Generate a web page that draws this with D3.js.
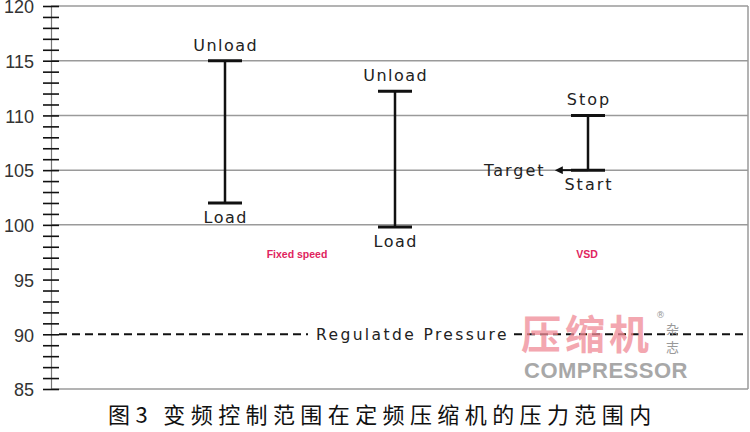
<!DOCTYPE html>
<html>
<head>
<meta charset="utf-8">
<script src="https://cdn.jsdelivr.net/npm/d3@7"></script>
<style>
  body { margin: 0; background: #fff; }
  text { font-family: "DejaVu Sans", sans-serif; }
</style>
</head>
<body>
<div id="chart-Div"></div>
<script>

// data
let barNames = ['fixedA', 'fixedB', 'vsd'];
let highs = [115, 112.2, 110];
let lows = [102, 99.8, 105];
let topLabels = ['Unload', 'Unload', 'Stop'];
let bottomLabels = ['Load', 'Load', 'Start'];
let groupNames = ['Fixed speed', 'VSD'];
let yTicks = [85, 90, 95, 100, 105, 110, 115, 120];
let gridValues = [85, 100, 105, 110, 115, 120];
let targetValue = 105;
let regulatedPressure = 90;

let width = 750, height = 432;
let svg = d3.select('#chart-Div')
    .append('svg')
    .attr('width', width)
    .attr('height', height);

let axisX = 51, rightX = 748;

let yScale = d3.scaleLinear()
    .domain([85, 120])
    .range([389, 6]);

let xScale = d3.scaleOrdinal()
    .domain(barNames)
    .range([225, 395, 588]);

let groupScale = d3.scaleOrdinal()
    .domain(groupNames)
    .range([297, 587]);

// grid lines
svg.selectAll('.grid')
    .data(gridValues)
    .join('line')
    .attr('x1', axisX)
    .attr('x2', rightX)
    .attr('y1', d => yScale(d))
    .attr('y2', d => yScale(d))
    .attr('stroke', '#9a9a9a')
    .attr('stroke-width', 1.5);

// right frame
svg.append('line')
    .attr('x1', rightX).attr('x2', rightX)
    .attr('y1', yScale(120)).attr('y2', yScale(85))
    .attr('stroke', '#9a9a9a')
    .attr('stroke-width', 1.5);

// y axis with every unit tick
let yAxis = d3.axisLeft(yScale)
    .tickValues(d3.range(85, 121, 1))
    .tickSize(0)
    .tickFormat('');
let axisG = svg.append('g')
    .attr('transform', `translate(${axisX},0)`)
    .call(yAxis);
axisG.select('.domain').attr('stroke', '#777').attr('stroke-width', 1.2);
axisG.selectAll('.tick line')
    .attr('x1', -8).attr('x2', 8)
    .attr('stroke', '#111')
    .attr('stroke-width', 1.6);

svg.selectAll('.ylabel')
    .data(yTicks)
    .join('text')
    .attr('x', 34)
    .attr('y', d => yScale(d) + 1)
    .attr('dy', '0.35em')
    .attr('text-anchor', 'end')
    .attr('font-size', 18)
    .attr('fill', '#333')
    .style('font-family', 'Liberation Sans, Arial, sans-serif')
    .text(d => d);

// regulated pressure dashed line
svg.append('line')
    .attr('x1', axisX + 8)
    .attr('x2', rightX)
    .attr('y1', yScale(regulatedPressure))
    .attr('y2', yScale(regulatedPressure))
    .attr('stroke', '#111')
    .attr('stroke-width', 2)
    .attr('stroke-dasharray', '8,5');

svg.append('rect')
    .attr('x', 308).attr('y', yScale(regulatedPressure) - 10)
    .attr('width', 206).attr('height', 20)
    .attr('fill', '#fff');

svg.append('text')
    .attr('x', 316)
    .attr('y', yScale(regulatedPressure))
    .attr('dy', '0.35em')
    .attr('font-size', 15.5)
    .attr('letter-spacing', 2.4)
    .attr('fill', '#222')
    .text('Regulatde Pressure');

// watermark
svg.append('text')
    .attr('x', 521).attr('y', 349)
    .attr('font-size', 40)
    .attr('letter-spacing', 4)
    .attr('font-weight', 'bold')
    .attr('fill', '#f08a96')
    .attr('opacity', 0.75)
    .style('font-family', 'Noto Sans CJK SC')
    .text('压缩机');
svg.append('text')
    .attr('x', 666).attr('y', 334)
    .attr('font-size', 13)
    .attr('fill', '#999')
    .style('font-family', 'Noto Sans CJK SC')
    .text('杂');
svg.append('text')
    .attr('x', 666).attr('y', 352)
    .attr('font-size', 13)
    .attr('fill', '#999')
    .style('font-family', 'Noto Sans CJK SC')
    .text('志');
svg.append('text')
    .attr('x', 656).attr('y', 318)
    .attr('font-size', 9)
    .attr('fill', '#999')
    .text('®');
svg.append('text')
    .attr('x', 606).attr('y', 378)
    .attr('text-anchor', 'middle')
    .attr('font-size', 22)
    .attr('font-weight', 'bold')
    .attr('letter-spacing', 0.5)
    .attr('fill', '#a8a8a8')
    .style('font-family', 'Liberation Sans, Arial, sans-serif')
    .text('COMPRESSOR');

// range bars
let bars = barNames.map((n, i) => ({name: n, hi: highs[i], lo: lows[i], top: topLabels[i], bot: bottomLabels[i]}));
let capHalf = 17;

let barG = svg.selectAll('.bar')
    .data(bars)
    .join('g');

barG.append('line')
    .attr('x1', d => xScale(d.name)).attr('x2', d => xScale(d.name))
    .attr('y1', d => yScale(d.hi)).attr('y2', d => yScale(d.lo))
    .attr('stroke', '#111').attr('stroke-width', 2.5);
barG.append('line')
    .attr('x1', d => xScale(d.name) - capHalf).attr('x2', d => xScale(d.name) + capHalf)
    .attr('y1', d => yScale(d.hi)).attr('y2', d => yScale(d.hi))
    .attr('stroke', '#111').attr('stroke-width', 3);
barG.append('line')
    .attr('x1', d => xScale(d.name) - capHalf).attr('x2', d => xScale(d.name) + capHalf)
    .attr('y1', d => yScale(d.lo)).attr('y2', d => yScale(d.lo))
    .attr('stroke', '#111').attr('stroke-width', 3);

let spacing = d => d.name === 'vsd' ? 2 : 1.5;

barG.append('text')
    .attr('x', d => xScale(d.name) + spacing(d) / 2)
    .attr('y', d => yScale(d.hi) - 10)
    .attr('text-anchor', 'middle')
    .attr('font-size', 16)
    .attr('letter-spacing', spacing)
    .attr('fill', '#222')
    .text(d => d.top);
barG.append('text')
    .attr('x', d => xScale(d.name) + spacing(d) / 2)
    .attr('y', d => yScale(d.lo) + 20)
    .attr('text-anchor', 'middle')
    .attr('font-size', 16)
    .attr('letter-spacing', spacing)
    .attr('fill', '#222')
    .text(d => d.bot);

// target arrow
svg.append('defs').append('marker')
    .attr('id', 'arrow')
    .attr('viewBox', '0 0 10 10')
    .attr('refX', 1).attr('refY', 5)
    .attr('markerWidth', 10).attr('markerHeight', 8)
    .attr('markerUnits', 'userSpaceOnUse')
    .attr('orient', 'auto-start-reverse')
    .append('path')
    .attr('d', 'M0,0 L10,5 L0,10 Z')
    .attr('fill', '#111');

svg.append('line')
    .attr('x1', xScale('vsd'))
    .attr('x2', xScale('vsd') - 26)
    .attr('y1', yScale(targetValue))
    .attr('y2', yScale(targetValue))
    .attr('stroke', '#111')
    .attr('stroke-width', 2)
    .attr('marker-end', 'url(#arrow)');

svg.append('text')
    .attr('x', 484)
    .attr('y', yScale(targetValue))
    .attr('dy', '0.35em')
    .attr('font-size', 16)
    .attr('letter-spacing', 2)
    .attr('fill', '#222')
    .text('Target');

// group tags
svg.selectAll('.group')
    .data(groupNames)
    .join('text')
    .attr('x', d => groupScale(d))
    .attr('y', 258)
    .attr('text-anchor', 'middle')
    .attr('font-size', 10.5)
    .attr('font-weight', 'bold')
    .attr('fill', '#e0245e')
    .style('font-family', 'Liberation Sans, Arial, sans-serif')
    .text(d => d);

// caption
svg.append('text')
    .attr('x', 108)
    .attr('y', 423)
    .attr('font-size', 22)
    .attr('letter-spacing', 5.4)
    .attr('fill', '#111')
    .style('font-family', 'Noto Sans CJK SC')
    .text('图3 变频控制范围在定频压缩机的压力范围内');

</script>
</body>
</html>
